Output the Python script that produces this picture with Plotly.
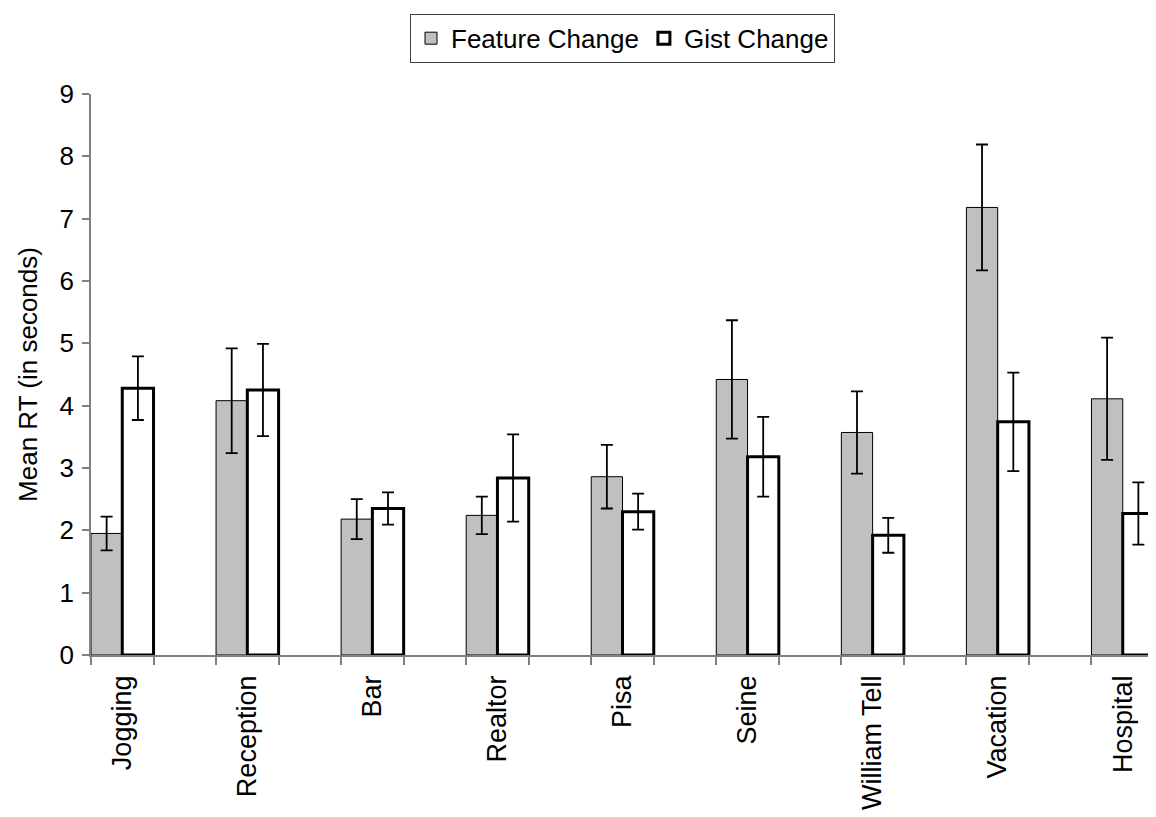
import plotly.graph_objects as go

categories = ["Jogging", "Reception", "Bar", "Realtor", "Pisa", "Seine",
              "William Tell", "Vacation", "Hospital"]
feature_change = [1.95, 4.08, 2.18, 2.24, 2.86, 4.42, 3.57, 7.18, 4.11]
feature_err = [0.27, 0.84, 0.32, 0.30, 0.51, 0.95, 0.66, 1.01, 0.98]
gist_change = [4.28, 4.25, 2.35, 2.84, 2.30, 3.18, 1.92, 3.74, 2.27]
gist_err = [0.51, 0.74, 0.26, 0.70, 0.29, 0.64, 0.28, 0.79, 0.50]
y_ticks = [0, 1, 2, 3, 4, 5, 6, 7, 8, 9]

xpos = list(range(len(categories)))
FONT = "Arial, Liberation Sans, sans-serif"
FS = 26

fig = go.Figure()
fig.add_trace(go.Bar(
    x=xpos, y=feature_change, name="Feature Change",
    marker=dict(color="#C0C0C0", line=dict(color="black", width=1)),
    error_y=dict(type="data", array=feature_err, visible=True,
                 color="black", thickness=1.8, width=6),
))
fig.add_trace(go.Bar(
    x=xpos, y=gist_change, name="Gist Change",
    marker=dict(color="white", line=dict(color="black", width=3)),
    error_y=dict(type="data", array=gist_err, visible=True,
                 color="black", thickness=1.8, width=6),
))

# page body has an 8px margin, so the figure is sized/offset to compensate
fig.update_layout(
    width=1148, height=809,
    margin=dict(l=83, r=2, t=86, b=162),
    paper_bgcolor="white", plot_bgcolor="white",
    barmode="group", bargap=0.5, bargroupgap=0,
    font=dict(family=FONT, size=FS, color="black"),
    showlegend=True,
    legend=dict(orientation="h", x=0.5, xanchor="center", y=1.143, yanchor="top",
                bordercolor="#404040", borderwidth=1, bgcolor="white",
                font=dict(family=FONT, size=FS, color="black"),
                itemwidth=30, traceorder="normal"),
)

fig.update_xaxes(
    range=[-0.25, 8.25], automargin=False,
    tickmode="array", tickvals=xpos, ticktext=categories,
    tickangle=-90, ticks="", showgrid=False, zeroline=False,
    ticklabelstandoff=8,
    showline=True, linecolor="#808080", linewidth=1.5,
    tickfont=dict(family=FONT, size=27, color="black"),
    minor=dict(ticks="outside", tick0=-0.25, dtick=0.5, ticklen=8,
               tickcolor="#808080", tickwidth=1.5, showgrid=False),
)
fig.update_yaxes(
    range=[0, 9], automargin=False, tickmode="array", tickvals=y_ticks,
    ticks="outside", ticklen=7, tickcolor="#808080", tickwidth=1.5,
    ticklabelstandoff=3,
    showgrid=False, zeroline=False,
    showline=True, linecolor="#808080", linewidth=1.5,
    tickfont=dict(family=FONT, size=FS, color="black"),
    title=dict(text="Mean RT (in seconds)", standoff=14,
               font=dict(family=FONT, size=FS, color="black")),
)

fig.write_html("out.html")
